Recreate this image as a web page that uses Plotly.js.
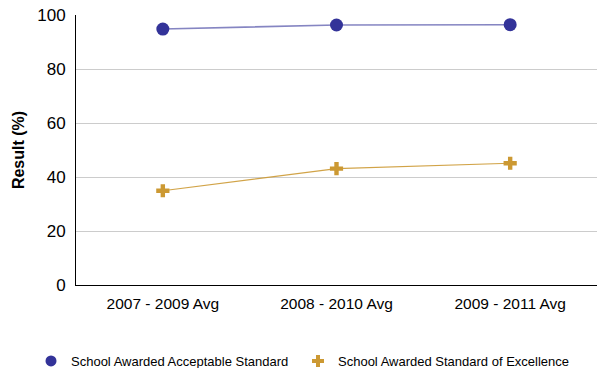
<!DOCTYPE html>
<html><head><meta charset="utf-8">
<script src="https://cdn.plot.ly/plotly-3.0.1.min.js"></script>
<style>body{margin:0;padding:0;}#chart{width:597px;height:368px;}</style>
</head><body><div id="chart"></div>
<script>
var categories = ["2007 - 2009 Avg", "2008 - 2010 Avg", "2009 - 2011 Avg"];
var acceptable = [94.8, 96.3, 96.4];
var excellence = [34.9, 43.1, 45.1];
var seriesNames = ["School Awarded Acceptable Standard", "School Awarded Standard of Excellence"];
var yTicks = [0, 20, 40, 60, 80, 100];

var blue = "#333399", blueLine = "rgba(51,51,153,0.6)";
var gold = "#cc9933", goldLine = "rgba(204,153,51,0.9)";

var traces = [
  {x: categories, y: acceptable, name: seriesNames[0], type: "scatter", mode: "lines+markers",
   legendgroup: "a", showlegend: false,
   line: {color: blueLine, width: 1.6},
   marker: {symbol: "circle", size: 13, color: blue}},
  {x: categories, y: excellence, name: seriesNames[1], type: "scatter", mode: "lines+markers",
   legendgroup: "b", showlegend: false,
   line: {color: goldLine, width: 1.2},
   marker: {symbol: "cross", size: 11, color: gold}},
  {x: [null], y: [null], name: seriesNames[0], type: "scatter", mode: "markers",
   legendgroup: "a", legend: "legend", marker: {symbol: "circle", size: 11, color: blue}},
  {x: [null], y: [null], name: seriesNames[1], type: "scatter", mode: "markers",
   legendgroup: "b", legend: "legend2", marker: {symbol: "cross", size: 10, color: gold}}
];
var legendBase = {orientation: "h", xref: "container", yref: "container",
                  xanchor: "left", yanchor: "middle", bgcolor: "rgba(0,0,0,0)",
                  font: {size: 13, color: "#000"}};
var layout = {
  width: 597, height: 368,
  margin: {l: 76, r: 0, t: 15, b: 83},
  paper_bgcolor: "#fff", plot_bgcolor: "#fff",
  font: {family: "Liberation Sans, Arial, sans-serif", color: "#000"},
  showlegend: true,
  legend: Object.assign({}, legendBase, {x: 31 / 597, y: 7 / 368}),
  legend2: Object.assign({}, legendBase, {x: 298 / 597, y: 7 / 368}),
  xaxis: {type: "category", range: [-0.5, 2.5], showgrid: false, zeroline: false,
          showline: true, linecolor: "#000", linewidth: 1, ticks: "",
          tickfont: {size: 15.5}, ticklabelstandoff: 4},
  yaxis: {range: [0, 100], tickvals: yTicks, ticktext: yTicks.map(String),
          showgrid: true, gridcolor: "#cccccc", gridwidth: 1, zeroline: false,
          showline: true, linecolor: "#000", linewidth: 1, ticks: "",
          tickfont: {size: 17}, ticklabelstandoff: 6,
          title: {text: "<b>Result (%)</b>", font: {size: 16}, standoff: 8}}
};
Plotly.newPlot("chart", traces, layout, {displayModeBar: false, staticPlot: true});
</script></body></html>
